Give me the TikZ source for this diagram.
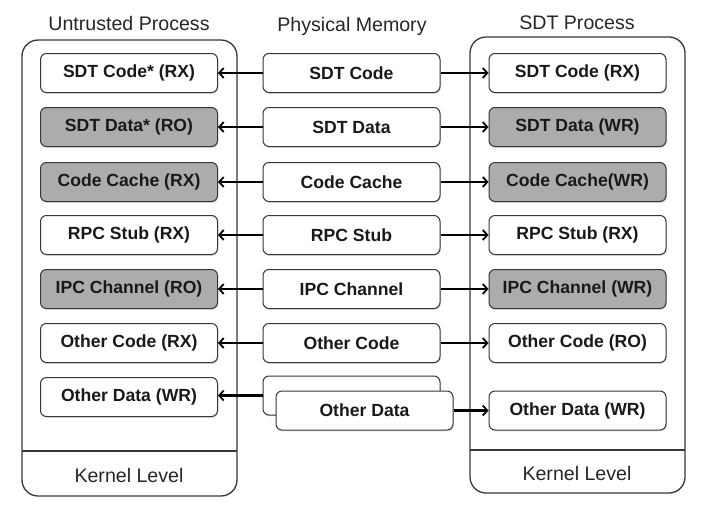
\documentclass[tikz,border=0pt]{standalone}
\usepackage{fontspec}
\setmainfont{Liberation Sans}
\usetikzlibrary{arrows.meta,shadows}
\definecolor{boxgray}{RGB}{172,172,172}
\definecolor{edgegray}{RGB}{55,55,55}
\tikzset{
  proc/.style={draw=edgegray, line width=1.3pt, rounded corners=16pt},
  membox/.style={draw=edgegray, line width=1pt, rounded corners=6pt, fill=white,
    minimum width=177pt, minimum height=39pt, inner sep=0pt,
    font=\fontsize{17.6}{20}\selectfont\bfseries, text=black!90,
    drop shadow={shadow xshift=0.8pt, shadow yshift=-1.4pt, opacity=0.25}},
  graybox/.style={membox, fill=boxgray},
  title/.style={font=\fontsize{19.6}{22}\selectfont, text=black!85, inner sep=0pt},
  arr/.style={draw=black, line width=2.1pt, -{Straight Barb[length=4.5pt,width=10pt,line width=1.8pt]}}
}
\begin{document}
\begin{tikzpicture}[x=1pt,y=-1pt]
\useasboundingbox (0,0) rectangle (720,509);
% containers
\draw[proc] (22,40) rectangle (237,496);
\draw[edgegray, line width=1.3pt] (22,451) -- (237,451);
\draw[proc] (470,37) rectangle (685,493);
\draw[edgegray, line width=1.3pt] (470,450) -- (685,450);
% titles
\node[title] (tL) at (129,23) {Untrusted Process};
\node[title] (tM) at (352,26) {Physical Memory};
\node[title] (tR) at (577,23) {SDT Process};
\node[title] (kL) at (129,475) {Kernel Level};
\node[title] (kR) at (577,473) {Kernel Level};
% left column
\node[membox]  (l1) at (129,73)  {SDT Code* (RX)};
\node[graybox] (l2) at (129,127) {SDT Data* (RO)};
\node[graybox] (l3) at (129,182) {Code Cache (RX)};
\node[membox]  (l4) at (129,235) {RPC Stub (RX)};
\node[graybox] (l5) at (129,289) {IPC Channel (RO)};
\node[membox]  (l6) at (129,343) {Other Code (RX)};
\node[membox]  (l7) at (129,397) {Other Data (WR)};
% middle column
\node[membox] (m1) at (351.5,73)  {SDT Code};
\node[membox] (m2) at (351.5,127) {SDT Data};
\node[membox] (m3) at (351.5,182) {Code Cache};
\node[membox] (m4) at (351.5,235) {RPC Stub};
\node[membox] (m5) at (351.5,289) {IPC Channel};
\node[membox] (m6) at (351.5,343) {Other Code};
\node[membox] (m7b) at (351.5,395.5) {};
\node[membox] (m7) at (364.5,410.5) {Other Data};
% right column
\node[membox]  (r1) at (577.5,73)  {SDT Code (RX)};
\node[graybox] (r2) at (577.5,127) {SDT Data (WR)};
\node[graybox] (r3) at (577.5,182) {Code Cache(WR)};
\node[membox]  (r4) at (577.5,235) {RPC Stub (RX)};
\node[graybox] (r5) at (577.5,289) {IPC Channel (WR)};
\node[membox]  (r6) at (577.5,343) {Other Code (RO)};
\node[membox]  (r7) at (577.5,410.5) {Other Data (WR)};
% arrows
\foreach \i in {1,...,6}{
  \draw[arr] (m\i.west) -- (l\i.east);
  \draw[arr] (m\i.east) -- (r\i.west);
}
\draw[arr] (m7b.west) -- (m7b.west -| l7.east);
\draw[arr] (m7.east) -- (r7.west);
\end{tikzpicture}
\end{document}
